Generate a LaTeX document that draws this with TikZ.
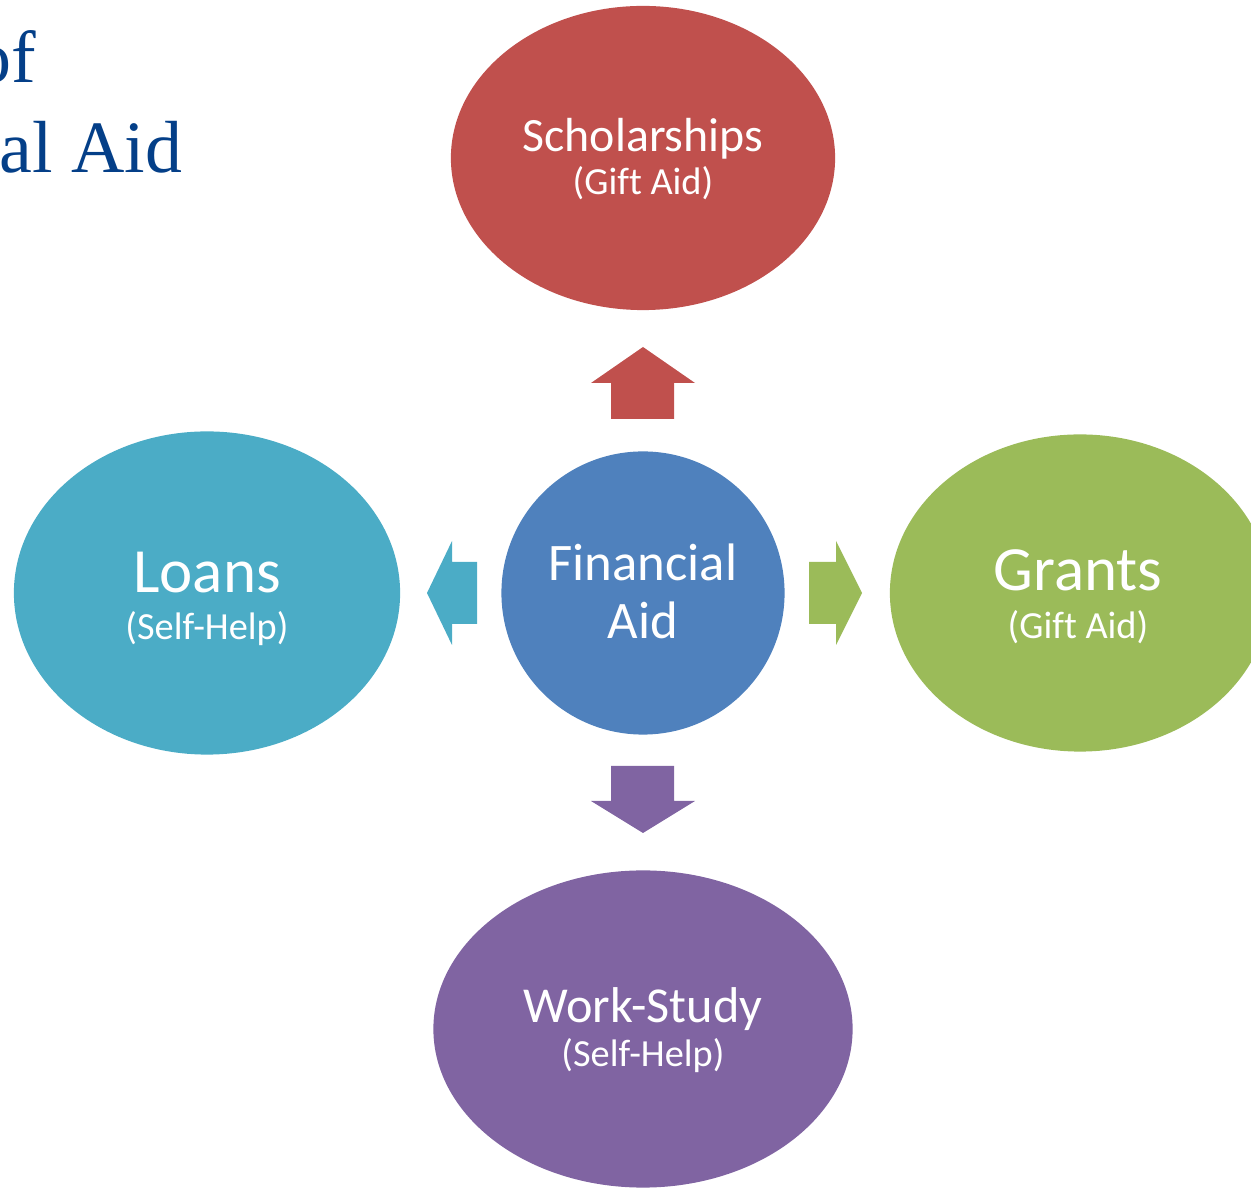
\documentclass[tikz,border=0pt]{standalone}
\usepackage{fontspec}
\setmainfont{Carlito}[Ligatures=NoCommon]
\newfontfamily\titlefont{Liberation Serif}
\usetikzlibrary{shapes.geometric}
\definecolor{schred}{HTML}{C0504D}
\definecolor{aidblue}{HTML}{4F81BD}
\definecolor{grantgreen}{HTML}{9BBB59}
\definecolor{workpurple}{HTML}{8064A2}
\definecolor{loanaqua}{HTML}{4BACC6}
\definecolor{titleblue}{RGB}{4,63,136}

\begin{document}
\begin{tikzpicture}[x=0.01cm, y=-0.01cm,
		bubble/.style={ellipse, inner sep=0pt},
		lbl/.style={text=white, anchor=base, inner sep=0pt},
		sublbl/.style={lbl, font=\fontsize{10.9}{12}\selectfont},
		ttl/.style={text=titleblue, anchor=base east, inner sep=0pt, font=\titlefont\fontsize{21}{25}\selectfont}]

		\useasboundingbox (0,0) rectangle (1251,1189);
		\clip (0,0) rectangle (1251,1189);

		% title, cut at the left edge
		\node[ttl] (ttl-a) at (37,83) {of};
		\node[ttl] (ttl-b) at (183,173) {al Aid};

		% bubbles
		\node[bubble, fill=schred, minimum width=3.84cm, minimum height=3.04cm] (schol) at (643,158) {};
		\node[bubble, fill=loanaqua, minimum width=3.86cm, minimum height=3.23cm] (loans) at (207,593) {};
		\node[bubble, fill=grantgreen, minimum width=3.8cm, minimum height=3.17cm] (grants) at (1080,593) {};
		\node[bubble, fill=workpurple, minimum width=4.19cm, minimum height=3.17cm] (work) at (643,1029) {};
		\node[circle, inner sep=0pt, fill=aidblue, minimum size=2.83cm] (aid) at (643,593) {};

		% block arrows
		\fill[schred] (611,419) -- (611,383) -- (591,383) -- (643,347) -- (695,383) -- (674,383) -- (674,419) -- cycle;
		\fill[workpurple] (611,766) -- (674,766) -- (674,801) -- (695,801) -- (643,833) -- (591,801) -- (611,801) -- cycle;
		\fill[loanaqua] (477,562) -- (452,562) -- (452,541) -- (427,593) -- (452,645) -- (452,624) -- (477,624) -- cycle;
		\fill[grantgreen] (809,562) -- (836,562) -- (836,541) -- (862,593) -- (836,645) -- (836,624) -- (809,624) -- cycle;

		% labels
		\node[lbl, font=\fontsize{13.6}{16}\selectfont] (schol-a) at (643,152) {Scholarships};
		\node[sublbl] (schol-b) at (643,195) {(Gift Aid)};
		\node[lbl, font=\fontsize{15}{18}\selectfont] (aid-a) at (643,581) {Financial};
		\node[lbl, font=\fontsize{15}{18}\selectfont] (aid-b) at (643,639) {Aid};
		\node[lbl, font=\fontsize{17.9}{20}\selectfont] (loans-a) at (207,593) {Loans};
		\node[sublbl] (loans-b) at (207,640) {(Self-Help)};
		\node[lbl, font=\fontsize{17.9}{20}\selectfont] (grants-a) at (1078,591) {Grants};
		\node[sublbl] (grants-b) at (1078,639) {(Gift Aid)};
		\node[lbl, font=\fontsize{14.3}{16}\selectfont] (work-a) at (643,1023) {Work-Study};
		\node[sublbl] (work-b) at (643,1067) {(Self-Help)};
	\end{tikzpicture}
\end{document}
